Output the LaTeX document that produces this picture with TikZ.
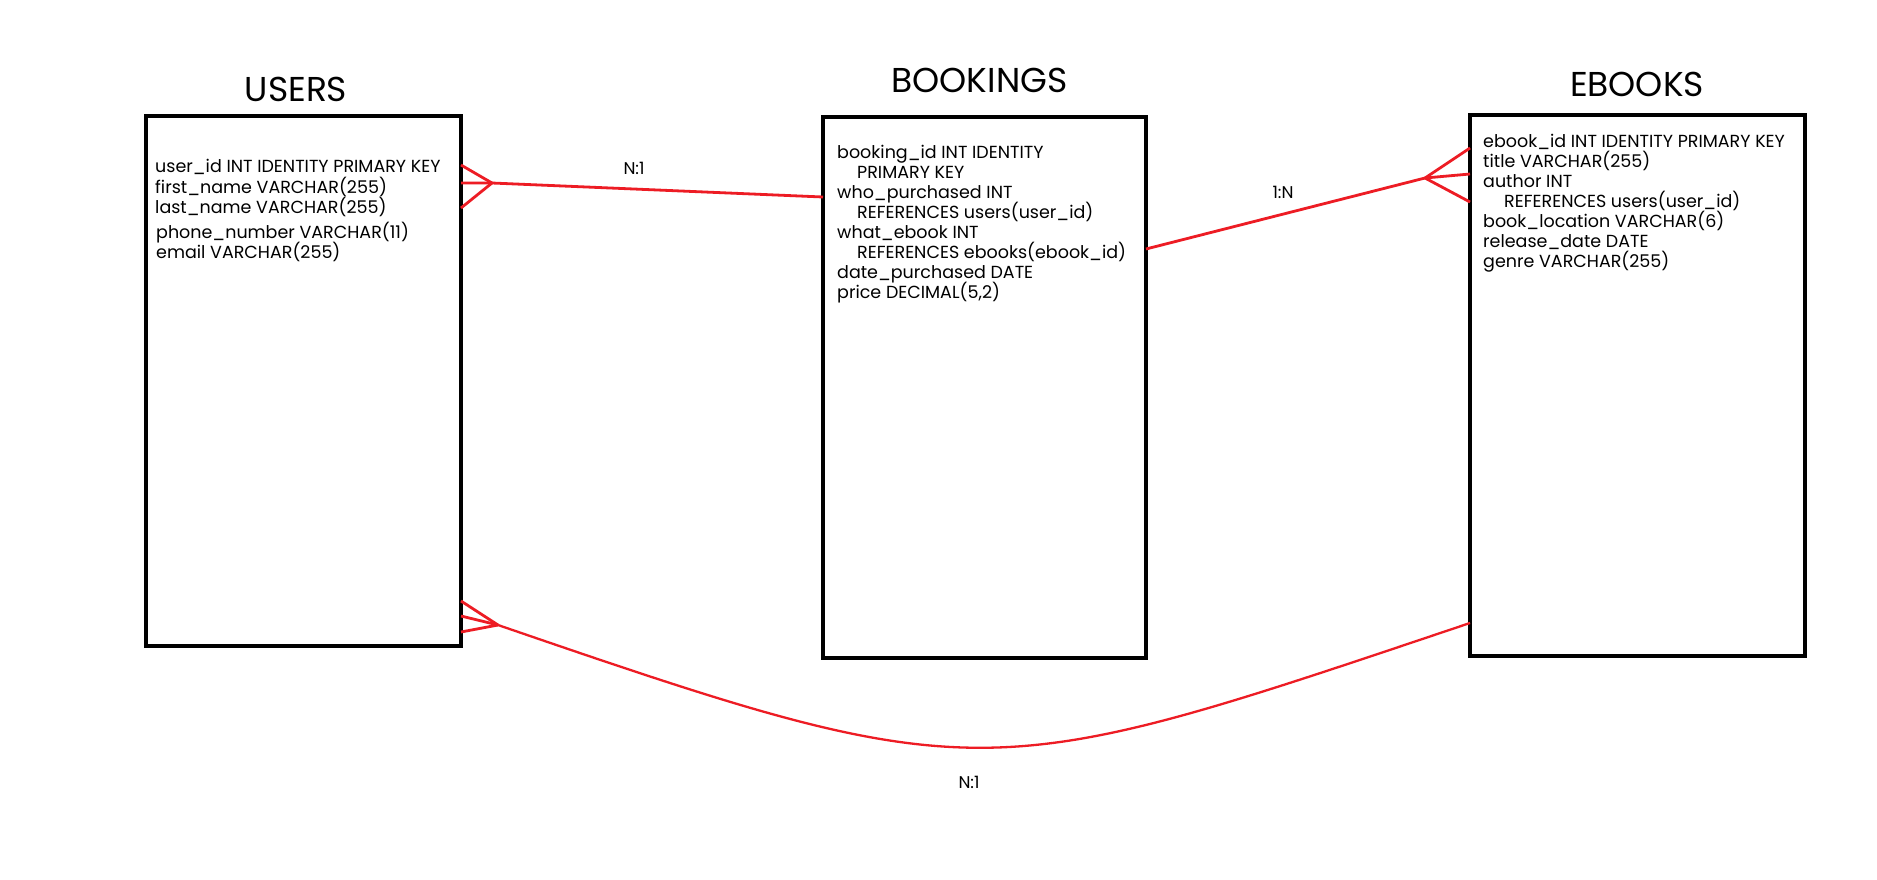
\documentclass[tikz,border=0pt]{standalone}
\usepackage{fontspec}
\setmainfont{Poppins}
\usetikzlibrary{calc}
\definecolor{erred}{RGB}{237,28,36}
\tikzset{
  tbl/.style={draw=black, line width=4.6pt, inner sep=0pt, outer sep=0pt},
  tabtitle/.style={font=\fontsize{34.5}{40}\selectfont, anchor=base, inner sep=0pt},
  fieldtext/.style={font=\fontsize{17.5}{20}\selectfont, anchor=base west, inner sep=0pt},
  rel/.style={draw=erred, line width=2.8pt, line join=round},
  curverel/.style={draw=erred, line width=2.3pt},
  rellabel/.style={font=\fontsize{17}{20}\selectfont, inner sep=0pt}
}
\begin{document}
\begin{tikzpicture}[x=1pt, y=-1pt]
\useasboundingbox[fill=white] (0,0) rectangle (1877,879);

% tables
\node[tbl, minimum width=315pt, minimum height=530pt] (users) at (303.5,381) {};
\node[tbl, minimum width=323pt, minimum height=541pt] (bookings) at (984.5,387.5) {};
\node[tbl, minimum width=335pt, minimum height=541pt] (ebooks) at (1637.5,385.5) {};

% titles
\node[tabtitle] (tusers) at (296,101) {USERS};
\node[tabtitle] (tbookings) at (979.5,92) {BOOKINGS};
\node[tabtitle] (tebooks) at (1637,96) {EBOOKS};

% users fields
\node[fieldtext] (u1) at (155,172) {user\_id INT IDENTITY PRIMARY KEY};
\node[fieldtext] (u2) at (155,193) {first\_name VARCHAR(255)};
\node[fieldtext] (u3) at (155,213) {last\_name VARCHAR(255)};
\node[fieldtext] (u4) at (156,238) {phone\_number VARCHAR(11)};
\node[fieldtext] (u5) at (156,258) {email VARCHAR(255)};

% bookings fields
\node[fieldtext] (b1) at (837,158) {booking\_id INT IDENTITY};
\node[fieldtext] (b2) at (857,178) {PRIMARY KEY};
\node[fieldtext] (b3) at (837,198) {who\_purchased INT};
\node[fieldtext] (b4) at (857,218) {REFERENCES users(user\_id)};
\node[fieldtext] (b5) at (837,238) {what\_ebook INT};
\node[fieldtext] (b6) at (857,258) {REFERENCES ebooks(ebook\_id)};
\node[fieldtext] (b7) at (837,278) {date\_purchased DATE};
\node[fieldtext] (b8) at (837,298) {price DECIMAL(5,2)};

% ebooks fields
\node[fieldtext] (e1) at (1483,147) {ebook\_id INT IDENTITY PRIMARY KEY};
\node[fieldtext] (e2) at (1483,167) {title VARCHAR(255)};
\node[fieldtext] (e3) at (1483,187) {author INT};
\node[fieldtext] (e4) at (1504,207) {REFERENCES users(user\_id)};
\node[fieldtext] (e5) at (1483,227) {book\_location VARCHAR(6)};
\node[fieldtext] (e6) at (1483,247) {release\_date DATE};
\node[fieldtext] (e7) at (1483,267) {genre VARCHAR(255)};

% crow's foot convergence points
\coordinate (c1) at (492,183);
\coordinate (c2) at (1425,178);
\coordinate (c3) at (498,625);

% users -- bookings (N:1)
\draw[rel] ($(users.north east)+(0,49)$) -- (c1) -- ($(users.north east)+(0,92)$);
\draw[rel] (users.east |- c1) -- (c1) -- ($(bookings.north west)+(0,80)$);
\node[rellabel] (l1) at (634,168) {N:1};

% bookings -- ebooks (1:N)
\draw[rel] ($(bookings.north east)+(0,132)$) -- (c2);
\draw[rel] ($(ebooks.north west)+(0,33)$) -- (c2) -- ($(ebooks.north west)+(0,87)$);
\draw[rel] (c2) -- ($(ebooks.north west)+(0,59)$);
\node[rellabel] (l2) at (1283,192) {1:N};

% ebooks -- users (N:1)
\draw[curverel] ($(ebooks.south west)+(0,-33)$) .. controls (985,786) and (984,792) .. (c3);
\draw[rel] ($(users.south east)+(0,-45)$) -- (c3);
\draw[rel] ($(users.south east)+(0,-30)$) -- (c3);
\draw[rel] ($(users.south east)+(0,-14)$) -- (c3);
\node[rellabel] (l3) at (969,782) {N:1};
\end{tikzpicture}
\end{document}
